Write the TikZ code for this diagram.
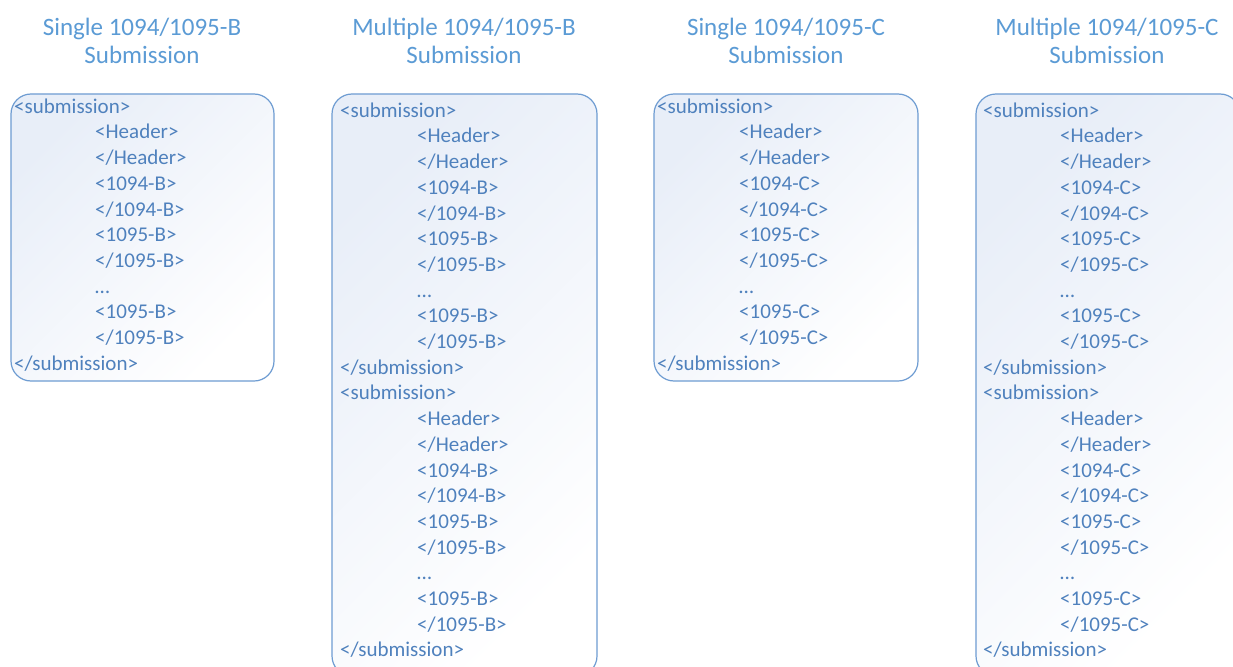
\documentclass[tikz,border=0pt]{standalone}
\usepackage{fontspec}
\setmainfont{Carlito}
\definecolor{titleblue}{HTML}{5B9BD5}
\definecolor{tagblue}{HTML}{4F81BD}
\definecolor{boxline}{HTML}{6E9CD2}
\definecolor{boxtint}{HTML}{E8EEF8}
\tikzset{
  title/.style={text=titleblue, align=center, inner sep=0pt, font=\fontsize{25}{28}\selectfont},
  tag/.style={text=tagblue, anchor=west, inner sep=0pt, text height=0.64em, text depth=0pt, font=\fontsize{21}{25}\selectfont},
  xmlbox/.style={draw=boxline, line width=1.2pt, rounded corners=20pt, top color=boxtint, bottom color=white, shading angle=45}
}
\begin{document}
\begin{tikzpicture}[x=1pt,y=-1pt]
\useasboundingbox (0,0) rectangle (1233,666);
\fill[white] (0,0) rectangle (1233,666);

% titles
\node[title] (sb-title) at (142,41) {Single 1094/1095-B\\Submission};
\node[title] (mb-title) at (464,41) {Multiple 1094/1095-B\\Submission};
\node[title] (sc-title) at (786,41) {Single 1094/1095-C\\Submission};
\node[title] (mc-title) at (1107,41) {Multiple 1094/1095-C\\Submission};

% boxes
\draw[xmlbox] (11,94) rectangle (274,381);
\draw[xmlbox] (332,94) rectangle (597,676);
\draw[xmlbox] (654,94) rectangle (918,381);
\draw[xmlbox] (976,94) rectangle (1240,676);

% submission blocks
\foreach \nm/\ox/\ix/\ytop/\f in {sb/14/95/110/B, mb1/340/417/114/B, mb2/340/417/396.7/B,
    sc/657/739/110/C, mc1/983/1060/114/C, mc2/983/1060/396.7/C} {
  \node[tag] (\nm-open) at (\ox,\ytop) {<submission>};
  \foreach \t [count=\k] in {<Header>, </Header>, <1094-\f>, </1094-\f>, <1095-\f>, </1095-\f>, …, <1095-\f>, </1095-\f>}
    \node[tag] (\nm-\k) at (\ix,\ytop+\k*25.7) {\t};
  \node[tag] (\nm-close) at (\ox,\ytop+257) {</submission>};
}
\end{tikzpicture}
\end{document}
